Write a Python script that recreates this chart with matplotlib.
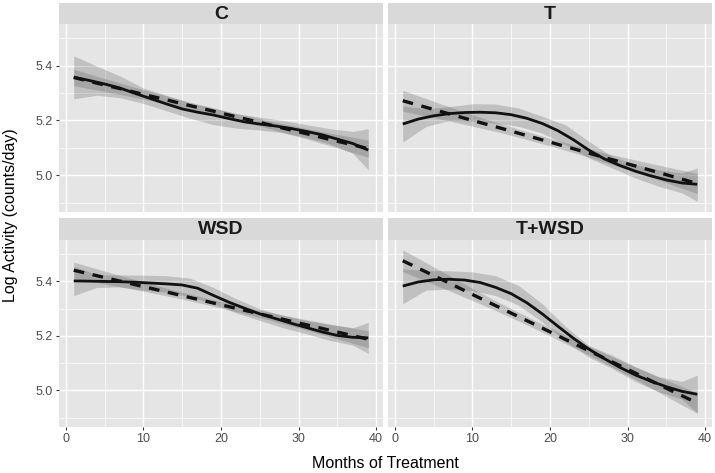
import matplotlib.pyplot as plt

plt.rcParams['font.family'] = ['Liberation Sans', 'DejaVu Sans']

months = [1, 4, 7, 10, 13, 16, 19, 22, 25, 28, 31, 34, 37, 39]
# finer grid for the solid (loess) lines
line_months = [1, 3, 5, 7, 9, 11, 13, 15, 17, 19, 21, 23, 25, 27, 29, 31, 33, 35, 37, 39]
groups = ["C", "T", "WSD", "T+WSD"]

# loess smooth (solid) and its band
c_loess = [5.358, 5.346, 5.333, 5.318, 5.298, 5.279, 5.260, 5.242, 5.230, 5.220,
           5.207, 5.195, 5.187, 5.180, 5.171, 5.160, 5.148, 5.132, 5.116, 5.092]
t_loess = [5.187, 5.205, 5.217, 5.225, 5.229, 5.230, 5.228, 5.221, 5.208, 5.189,
           5.163, 5.130, 5.092, 5.060, 5.036, 5.015, 4.998, 4.983, 4.972, 4.967]
w_loess = [5.402, 5.401, 5.400, 5.399, 5.397, 5.394, 5.391, 5.387, 5.375, 5.349,
           5.324, 5.302, 5.281, 5.264, 5.247, 5.231, 5.215, 5.202, 5.195, 5.193]
tw_loess = [5.383, 5.398, 5.406, 5.408, 5.405, 5.396, 5.378, 5.355, 5.322, 5.281,
            5.236, 5.192, 5.152, 5.117, 5.085, 5.057, 5.034, 5.014, 4.997, 4.986]

c_loess_lo = [5.279, 5.292, 5.283, 5.262, 5.235, 5.208, 5.185, 5.172, 5.165, 5.155, 5.138, 5.115, 5.080, 5.020]
c_loess_hi = [5.436, 5.398, 5.362, 5.318, 5.292, 5.265, 5.245, 5.225, 5.212, 5.200, 5.185, 5.170, 5.160, 5.170]
t_loess_lo = [5.121, 5.178, 5.200, 5.197, 5.190, 5.178, 5.154, 5.112, 5.063, 5.027, 4.990, 4.960, 4.936, 4.905]
t_loess_hi = [5.253, 5.243, 5.251, 5.261, 5.260, 5.245, 5.215, 5.184, 5.124, 5.069, 5.039, 5.020, 5.008, 5.027]
w_loess_lo = [5.348, 5.378, 5.380, 5.368, 5.360, 5.344, 5.318, 5.284, 5.257, 5.230, 5.208, 5.184, 5.166, 5.136]
w_loess_hi = [5.456, 5.424, 5.424, 5.423, 5.421, 5.412, 5.378, 5.336, 5.300, 5.275, 5.257, 5.242, 5.230, 5.250]
tw_loess_lo = [5.318, 5.368, 5.372, 5.366, 5.348, 5.312, 5.251, 5.180, 5.122, 5.081, 5.033, 4.996, 4.968, 4.918]
tw_loess_hi = [5.446, 5.440, 5.439, 5.435, 5.421, 5.384, 5.318, 5.235, 5.165, 5.130, 5.087, 5.051, 5.033, 5.056]

# linear fit (dashed) and its band
c_lin = [5.357, 5.336, 5.316, 5.295, 5.275, 5.254, 5.234, 5.213, 5.193, 5.172, 5.152, 5.131, 5.111, 5.097]
c_lin_lo = [5.327, 5.311, 5.295, 5.278, 5.261, 5.242, 5.222, 5.201, 5.180, 5.156, 5.133, 5.108, 5.083, 5.066]
c_lin_hi = [5.387, 5.361, 5.337, 5.312, 5.289, 5.266, 5.246, 5.225, 5.206, 5.188, 5.171, 5.154, 5.139, 5.128]
t_lin = [5.272, 5.248, 5.224, 5.200, 5.177, 5.153, 5.129, 5.105, 5.081, 5.057, 5.034, 5.010, 4.986, 4.970]
t_lin_lo = [5.234, 5.216, 5.198, 5.179, 5.160, 5.138, 5.115, 5.091, 5.066, 5.039, 5.012, 4.983, 4.953, 4.933]
t_lin_hi = [5.310, 5.280, 5.250, 5.221, 5.194, 5.168, 5.143, 5.119, 5.096, 5.075, 5.056, 5.037, 5.019, 5.007]
w_lin = [5.441, 5.421, 5.401, 5.381, 5.361, 5.341, 5.321, 5.301, 5.281, 5.261, 5.241, 5.221, 5.201, 5.188]
w_lin_lo = [5.411, 5.396, 5.380, 5.364, 5.347, 5.329, 5.309, 5.289, 5.268, 5.245, 5.222, 5.198, 5.173, 5.157]
w_lin_hi = [5.471, 5.446, 5.422, 5.398, 5.375, 5.353, 5.333, 5.313, 5.294, 5.277, 5.260, 5.244, 5.229, 5.219]
tw_lin = [5.476, 5.435, 5.394, 5.352, 5.311, 5.270, 5.229, 5.187, 5.146, 5.105, 5.064, 5.022, 4.981, 4.954]
tw_lin_lo = [5.436, 5.401, 5.366, 5.330, 5.293, 5.254, 5.214, 5.172, 5.130, 5.086, 5.041, 4.994, 4.947, 4.916]
tw_lin_hi = [5.516, 5.469, 5.422, 5.374, 5.329, 5.286, 5.244, 5.202, 5.162, 5.124, 5.087, 5.050, 5.015, 4.992]

x_ticks = [0, 10, 20, 30, 40]
y_ticks = [5.0, 5.2, 5.4]
y_tick_labels = ['5.0', '5.2', '5.4']

loess = [c_loess, t_loess, w_loess, tw_loess]
loess_lo = [c_loess_lo, t_loess_lo, w_loess_lo, tw_loess_lo]
loess_hi = [c_loess_hi, t_loess_hi, w_loess_hi, tw_loess_hi]
lin = [c_lin, t_lin, w_lin, tw_lin]
lin_lo = [c_lin_lo, t_lin_lo, w_lin_lo, tw_lin_lo]
lin_hi = [c_lin_hi, t_lin_hi, w_lin_hi, tw_lin_hi]

W, H = 715, 473
fig = plt.figure(figsize=(W / 100, H / 100), dpi=100)

def box(x0, y0, x1, y1):
    # pixel box -> figure fraction
    return [x0 / W, 1 - y1 / H, (x1 - x0) / W, (y1 - y0) / H]

cols = [(59, 383), (388, 712)]
rows = [(3, 24, 212), (218, 240, 427)]

for i, name in enumerate(groups):
    r, c = divmod(i, 2)
    x0, x1 = cols[c]
    s0, p0, p1 = rows[r]

    strip = fig.add_axes(box(x0, s0, x1, p0))
    strip.set_facecolor('#D9D9D9')
    strip.set_xticks([])
    strip.set_yticks([])
    for sp in strip.spines.values():
        sp.set_visible(False)
    strip.text(0.5, 0.46, name, ha='center', va='center', fontsize=14,
               fontweight='bold', color='#1A1A1A', transform=strip.transAxes)

    ax = fig.add_axes(box(x0, p0, x1, p1))
    ax.set_facecolor('#E5E5E5')
    for sp in ax.spines.values():
        sp.set_visible(False)
    ax.set_xlim(-0.9, 40.9)
    ax.set_ylim(4.866, 5.552)
    ax.set_xticks(x_ticks)
    ax.set_yticks(y_ticks)
    ax.set_xticks([5, 15, 25, 35], minor=True)
    ax.set_yticks([4.9, 5.1, 5.3, 5.5], minor=True)
    ax.grid(which='major', color='white', linewidth=1.0)
    ax.grid(which='minor', color='white', linewidth=0.5)
    ax.set_axisbelow(True)
    ax.tick_params(which='minor', length=0)
    ax.tick_params(which='major', length=2.2, width=0.8, color='#333333',
                   labelsize=9, labelcolor='#4D4D4D', pad=2)
    if c == 1:
        ax.tick_params(axis='y', left=False, labelleft=False)
    else:
        ax.set_yticklabels(y_tick_labels)
    if r == 0:
        ax.tick_params(axis='x', bottom=False, labelbottom=False)

    ax.fill_between(months, loess_lo[i], loess_hi[i], color='#555555', alpha=0.25, linewidth=0)
    ax.fill_between(months, lin_lo[i], lin_hi[i], color='#555555', alpha=0.25, linewidth=0)
    ax.plot(line_months, loess[i], color='#111111', linewidth=2.0,
            solid_capstyle='butt', solid_joinstyle='round')
    ax.plot(months, lin[i], color='#111111', linewidth=2.4, linestyle=(0, (3.2, 2.6)),
            dash_capstyle='butt')

fig.text(385 / W, 1 - 463 / H, "Months of Treatment", ha='center', va='center', fontsize=11.5)
fig.text(11 / W, 1 - 215 / H, "Log Activity (counts/day)", ha='center', va='center',
         rotation=90, fontsize=11.5)

fig.savefig("out.png", dpi=100)
